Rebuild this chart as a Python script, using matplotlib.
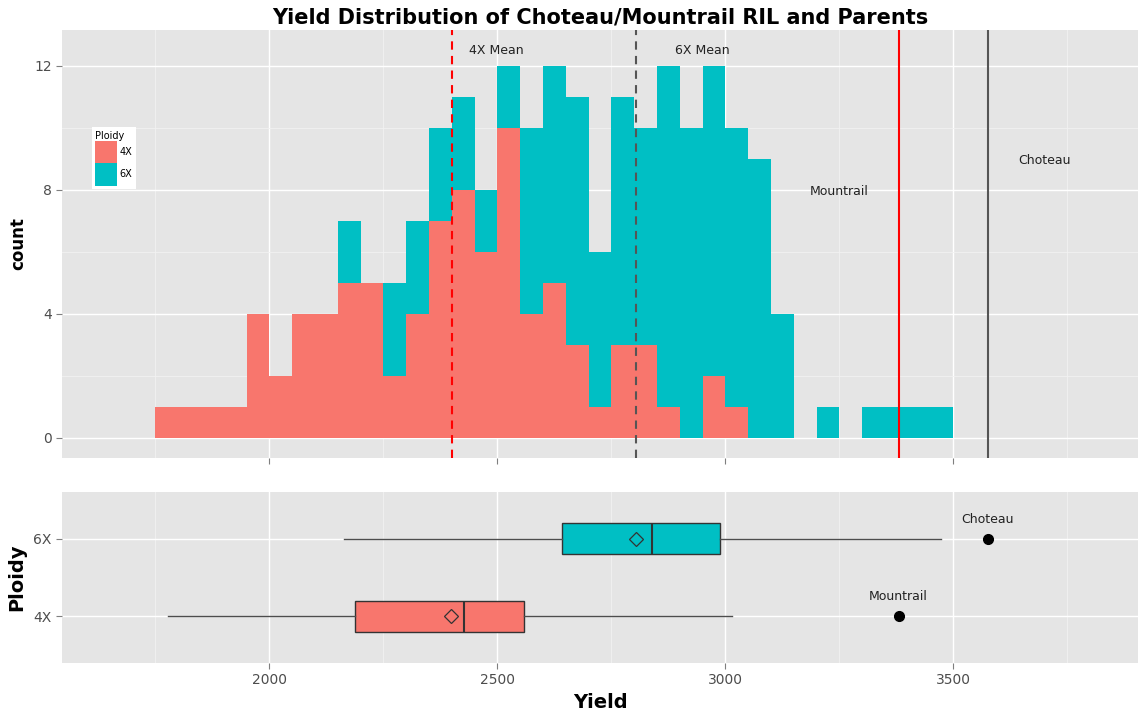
import numpy as np
import matplotlib
matplotlib.use("Agg")
import matplotlib.pyplot as plt

# ---- data ----
bin_width = 50
bin_starts = list(range(1750, 3500, 50))
count_4x = [1, 1, 1, 1, 4, 2, 4, 4, 5, 5, 2, 4, 7, 8, 6, 10, 4, 5, 3, 1, 3, 3, 1, 0, 2, 1,
            0, 0, 0, 0, 0, 0, 0, 0, 0]
count_6x = [0, 0, 0, 0, 0, 0, 0, 0, 2, 0, 3, 3, 3, 3, 2, 2, 6, 7, 8, 5, 8, 7, 11, 10, 10, 9,
            9, 4, 0, 1, 0, 1, 1, 1, 1]
ploidy = ["4X", "6X"]
colors = {"4X": "#F8766D", "6X": "#00BFC4"}
means = {"4X": 2400, "6X": 2805}
parents = {"Mountrail": 3380, "Choteau": 3575}
parent_ploidy = {"Mountrail": "4X", "Choteau": "6X"}
box_stats = {
    "4X": dict(whislo=1777, q1=2187, med=2426, q3=2558, whishi=3015, mean=2398),
    "6X": dict(whislo=2164, q1=2641, med=2838, q3=2988, whishi=3474, mean=2805),
}

W, H = 1139, 710
fig = plt.figure(figsize=(W / 100, H / 100), dpi=100)
fig.patch.set_facecolor("white")

def px(x0, y0, x1, y1):
    return [x0 / W, 1 - y1 / H, (x1 - x0) / W, (y1 - y0) / H]

PANEL = "#E5E5E5"
GRID = "white"
MINOR = "#F2F2F2"
TICKC = "#4D4D4D"

def style(ax):
    ax.set_facecolor(PANEL)
    for s in ax.spines.values():
        s.set_visible(False)
    ax.tick_params(colors="#7F7F7F", labelcolor=TICKC, labelsize=10, length=4, width=0.8)

xlim = (1545, 3905)

# ---- top histogram ----
ax1 = fig.add_axes(px(62, 30, 1138, 458))
style(ax1)
ax1.set_xlim(*xlim)
ax1.set_ylim(-0.65, 13.16)
ax1.set_xticks([2000, 2500, 3000, 3500])
ax1.set_xticks([1750, 2250, 2750, 3250, 3750], minor=True)
ax1.set_yticks([0, 4, 8, 12])
ax1.set_yticks([2, 6, 10], minor=True)
ax1.grid(True, which="major", color=GRID, linewidth=1.0)
ax1.grid(True, which="minor", color=MINOR, linewidth=0.6)
ax1.tick_params(which="minor", length=0)
ax1.set_axisbelow(True)
ax1.set_xticklabels([])
ax1.set_ylabel("count", fontsize=12, fontweight="bold", labelpad=5)

c4 = np.array(count_4x)
c6 = np.array(count_6x)
ax1.bar(bin_starts, c4, width=bin_width, align="edge", color=colors["4X"], linewidth=0, label="4X")
ax1.bar(bin_starts, c6, width=bin_width, bottom=c4, align="edge", color=colors["6X"], linewidth=0, label="6X")

ax1.axvline(means["4X"], color="red", linestyle=(0, (4, 3)), linewidth=1.5)
ax1.axvline(means["6X"], color="#555555", linestyle=(0, (4, 3)), linewidth=1.5)
ax1.axvline(parents["Mountrail"], color="red", linewidth=1.5)
ax1.axvline(parents["Choteau"], color="#555555", linewidth=1.5)
ax1.text(2498, 12.5, "4X Mean", ha="center", va="center", fontsize=9, color="#222222")
ax1.text(2950, 12.5, "6X Mean", ha="center", va="center", fontsize=9, color="#222222")
ax1.text(3250, 7.95, "Mountrail", ha="center", va="center", fontsize=9, color="#222222")
ax1.text(3700, 8.95, "Choteau", ha="center", va="center", fontsize=9, color="#222222")

leg = ax1.legend(title="Ploidy", loc="upper left", bbox_to_anchor=(0.0279, 0.773),
                 fontsize=7, title_fontsize=7, frameon=True, fancybox=False, framealpha=1,
                 handlelength=2.2, handleheight=3.2, handletextpad=0.3, borderpad=0.35,
                 labelspacing=0.0, borderaxespad=0)
leg.get_frame().set_edgecolor("white")
leg.get_frame().set_linewidth(0)
leg._legend_box.align = "left"

ax1.set_title("Yield Distribution of Choteau/Mountrail RIL and Parents", fontsize=15,
              fontweight="bold", pad=5)

# ---- lower boxplot ----
ax2 = fig.add_axes(px(62, 492, 1138, 663))
style(ax2)
ax2.set_xlim(*xlim)
ax2.set_ylim(0.4, 2.6)
ax2.set_xticks([2000, 2500, 3000, 3500])
ax2.set_xticks([1750, 2250, 2750, 3250, 3750], minor=True)
ax2.grid(True, which="major", color=GRID, linewidth=1.0)
ax2.grid(True, which="minor", axis="x", color=MINOR, linewidth=0.6)
ax2.tick_params(which="minor", length=0)
ax2.set_axisbelow(True)

stats = []
for p in ploidy:
    s = dict(box_stats[p])
    s["label"] = p
    s["fliers"] = []
    stats.append(s)
bp = ax2.bxp(stats, positions=[1, 2], vert=False, widths=0.4, patch_artist=True,
             showmeans=True, showcaps=False, showfliers=False,
             boxprops=dict(edgecolor="#333333", linewidth=1.0),
             whiskerprops=dict(color="#4D4D4D", linewidth=1.0),
             medianprops=dict(color="#333333", linewidth=1.5),
             meanprops=dict(marker="D", markerfacecolor="none", markeredgecolor="#333333",
                            markersize=7, markeredgewidth=0.9))
for patch, p in zip(bp["boxes"], ploidy):
    patch.set_facecolor(colors[p])
ax2.set_yticks([1, 2])
ax2.set_yticklabels(ploidy)

for name, val in parents.items():
    ypos = ploidy.index(parent_ploidy[name]) + 1
    ax2.plot([val], [ypos], "o", color="black", markersize=7)
    ax2.text(val, ypos + 0.25, name, ha="center", va="center", fontsize=9, color="#222222")

ax2.set_xlabel("Yield", fontsize=14, fontweight="bold", labelpad=4)
ax2.set_ylabel("Ploidy", fontsize=14, fontweight="bold", labelpad=5)

fig.savefig("out.png", dpi=100)
